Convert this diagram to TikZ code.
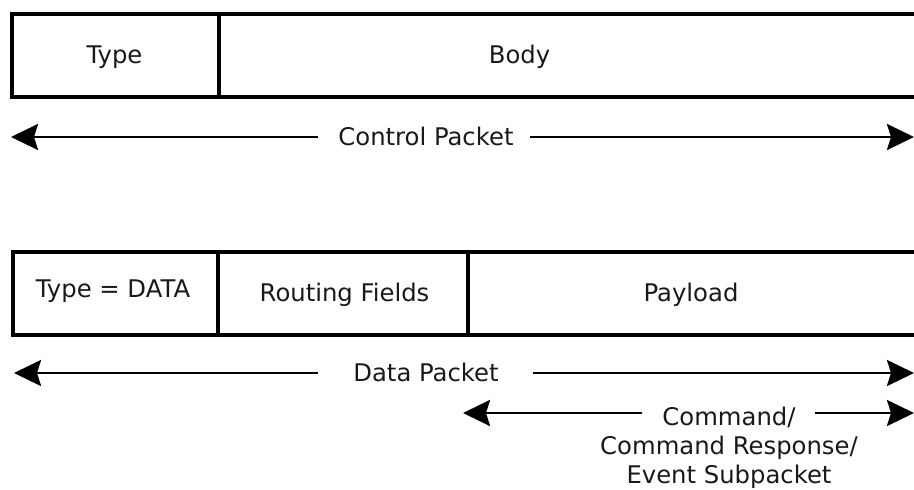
\documentclass[tikz,border=0pt]{standalone}
\usepackage{fontspec}
\setmainfont{DejaVu Sans}
\usetikzlibrary{arrows.meta}
\begin{document}
\begin{tikzpicture}[x=1pt,y=-1pt,
  field/.style={draw=black,line width=3.4pt},
  lbl/.style={font=\fontsize{24.3}{29}\selectfont,anchor=base,inner sep=0pt,text=black!90},
  span/.style={line width=2.8pt,-{Stealth[length=27pt,width=26pt,inset=4pt]}}]
\useasboundingbox (0,0) rectangle (914,490);
\clip (0,0) rectangle (914,490);
\fill[white] (0,0) rectangle (914,490);

% control packet
\draw[field] (12,14) rectangle (930,97);
\draw[field] (219,14) -- (219,97);
\node[lbl] (ctype) at (114.5,63) {Type};
\node[lbl] (cbody) at (519.5,63) {Body};
\node[lbl] (clabel) at (426,145.5) {Control Packet};
\coordinate (cgl) at (318,137);
\coordinate (cgr) at (530,137);
\coordinate (cl) at (11,137);
\coordinate (cr) at (914,137);
\draw[span] (cgl) -- (cl);
\draw[span] (cgr) -- (cr);

% data packet
\draw[field] (13,252) rectangle (930,335);
\draw[field] (218,252) -- (218,335);
\draw[field] (468,252) -- (468,335);
\node[lbl] (dtype) at (113,297) {Type = DATA};
\node[lbl] (droute) at (344.5,301) {Routing Fields};
\node[lbl] (dpay) at (691,301) {Payload};
\node[lbl] (dlabel) at (426,381) {Data Packet};
\coordinate (dgl) at (318,373);
\coordinate (dgr) at (533,373);
\coordinate (dl) at (14,373);
\coordinate (dr) at (914,373);
\draw[span] (dgl) -- (dl);
\draw[span] (dgr) -- (dr);

% subpacket span; the base anchor sits on the last line
\node[lbl,align=center] (slabel) at (729,483)
  {Command/\\Command Response/\\Event Subpacket};
\coordinate (sgl) at (642,413);
\coordinate (sgr) at (815,413);
\coordinate (sl) at (463,413);
\coordinate (sr) at (914,413);
\draw[span] (sgl) -- (sl);
\draw[span] (sgr) -- (sr);
\end{tikzpicture}
\end{document}
